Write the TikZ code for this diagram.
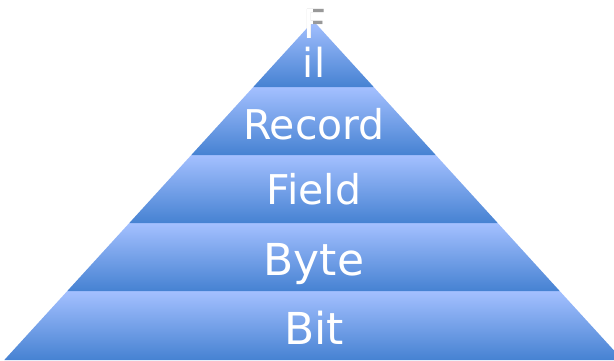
\documentclass[tikz,border=0pt]{standalone}
\usepackage{fontspec}
\setmainfont{DejaVu Sans}
\definecolor{pyrlight}{RGB}{164,192,255}
\definecolor{pyrdark}{RGB}{70,130,210}
\tikzset{layer/.style={top color=pyrlight,bottom color=pyrdark},
  lbl/.style={white,anchor=base,inner sep=0pt}}

\begin{document}
\begin{tikzpicture}[x=1pt,y=1pt]
\useasboundingbox (0,0) rectangle (614,360);
\clip (0,0) rectangle (614,360);
\coordinate (top) at (313.5,339);

\shade[layer] (4.3,0) -- (622.7,0) -- (559.7,69) -- (67.3,69) -- cycle;
\shade[layer] (67.3,69) -- (559.7,69) -- (497.7,137) -- (129.3,137) -- cycle;
\shade[layer] (129.3,137) -- (497.7,137) -- (435.7,205) -- (191.3,205) -- cycle;
\shade[layer] (191.3,205) -- (435.7,205) -- (373.7,273) -- (253.3,273) -- cycle;
\shade[layer] (253.3,273) -- (373.7,273) -- (top) -- cycle;

\node[lbl,font=\fontsize{44}{50}\selectfont] (bit) at (314,16) {Bit};
\node[lbl,font=\fontsize{44}{50}\selectfont] (byte) at (314,85) {Byte};
\node[lbl,font=\fontsize{41}{46}\selectfont] (field) at (314,156) {Field};
\node[lbl,font=\fontsize{41}{46}\selectfont] (record) at (314,221) {Record};
\node[lbl,font=\fontsize{40}{46}\selectfont] (il) at (314,283) {il};
% the F of the cut-off title: grey, with a white stem
\node[lbl,gray!80,font=\fontsize{40}{46}\selectfont] (F) at (315,322) {F};
\begin{scope}
\clip (305.5,315) rectangle (312.3,355);
\node[lbl,font=\fontsize{40}{46}\selectfont] at (315,322) {F};
\end{scope}
\end{tikzpicture}
\end{document}
